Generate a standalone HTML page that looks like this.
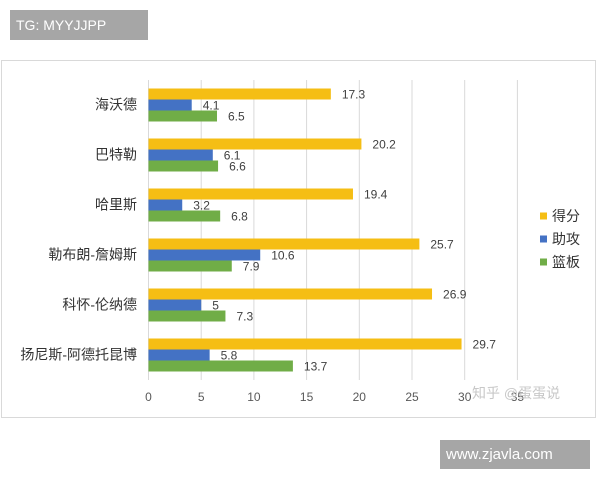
<!DOCTYPE html>
<html><head><meta charset="utf-8"><style>
body{margin:0;width:600px;height:480px;background:#fff;overflow:hidden;position:relative;font-family:"Liberation Sans","Noto Sans CJK SC",sans-serif}
#card{position:absolute;left:1px;top:60px;width:595px;height:358px;border:1px solid #d9d9d9;box-sizing:border-box}
.tag{position:absolute;background:#a6a6a6;color:#fff;font-size:14px;line-height:30px;padding:0 6px}
</style></head><body>
<div class="tag" style="left:10px;top:10px;width:126px;height:30px;">TG: MYYJJPP</div>
<div id="card"></div>
<svg id="chart" width="600" height="480" style="position:absolute;left:0;top:0"></svg>
<div class="tag" style="left:440px;top:440px;width:138px;height:29px;font-size:15px;line-height:29px;">www.zjavla.com</div>
<script>
const categories=["海沃德","巴特勒","哈里斯","勒布朗-詹姆斯","科怀-伦纳德","扬尼斯-阿德托昆博"];
const points=[17.3,20.2,19.4,25.7,26.9,29.7];
const assists=[4.1,6.1,3.2,10.6,5,5.8];
const rebounds=[6.5,6.6,6.8,7.9,7.3,13.7];
const ticks=[0,5,10,15,20,25,30,35];
const seriesNames=["得分","助攻","篮板"];
const colors=["#F5BE14","#4472C4","#70AD47"];
const NS="http://www.w3.org/2000/svg";
const svg=document.getElementById('chart');
const x0=148.5,ppu=10.54,topY=80,band=50,barH=11;
const xs=v=>x0+v*ppu;
function mk(t,a){const e=document.createElementNS(NS,t);for(const k in a)e.setAttribute(k,a[k]);svg.appendChild(e);return e;}
ticks.forEach((t,i)=>{
  const g=mk('line',{x1:xs(t),x2:xs(t),y1:topY,y2:topY+band*categories.length,stroke:'#d9d9d9','stroke-width':1});
  
  
  const l=mk('text',{x:xs(t),y:401,'text-anchor':'middle','font-size':12,fill:'#595959'});
  l.textContent=t;
  
  
});
const series=[points,assists,rebounds];
categories.forEach((c,i)=>{
  const y0=topY+i*band+8.5;
  const cl=mk('text',{x:137,y:y0+21,'text-anchor':'end','font-size':14,fill:'#333'});
  cl.textContent=c;
  
  
  series.forEach((s,j)=>{
    const by=y0+j*barH;
    const r=mk('rect',{x:xs(0),y:by,width:xs(s[i])-xs(0),height:barH,fill:colors[j]});
    
    
    const t=mk('text',{x:xs(s[i])+11,y:by+barH/2+4.5,'font-size':12,fill:'#404040'});
    t.textContent=s[i];
    
    
  });
});
const ly=[216,239,262];
seriesNames.forEach((n,j)=>{
  const r=mk('rect',{x:540,y:ly[j]-3.5,width:7,height:7,fill:colors[j]});
  
  
  const t=mk('text',{x:552,y:ly[j]+5,'font-size':14,fill:'#333'});
  t.textContent=n;
  
  
});
const wm=mk('text',{x:472,y:398,'font-size':14,fill:'#c8c8c8'});
wm.textContent="知乎 @蛋蛋说";


</script>
</body></html>
